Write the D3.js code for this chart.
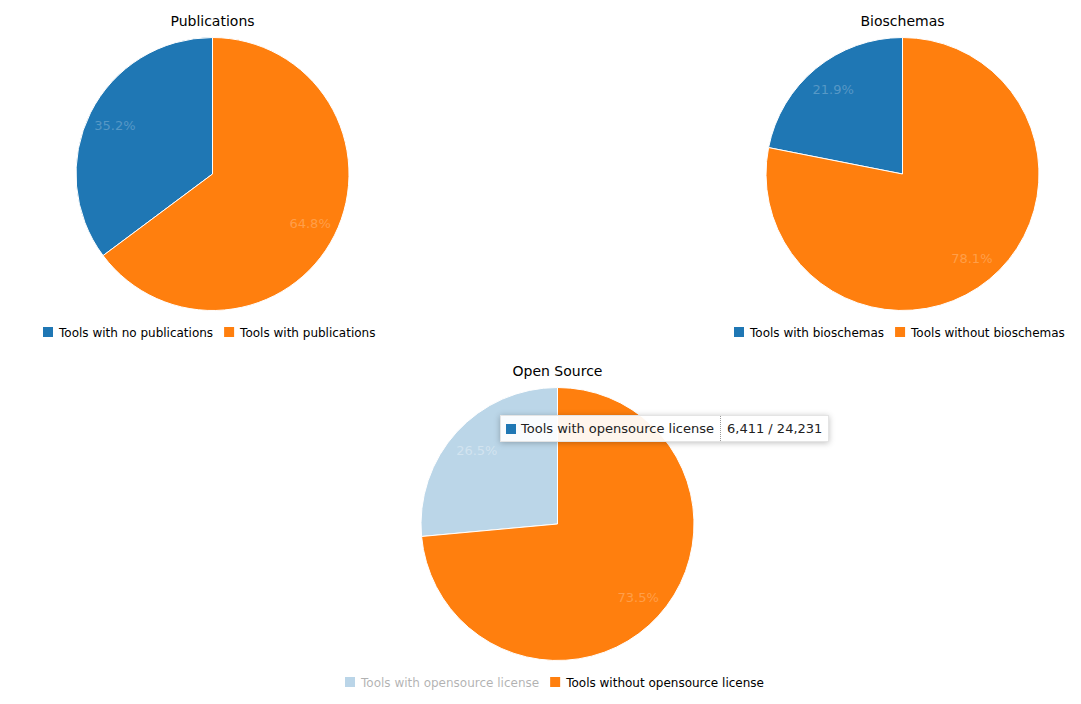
<!DOCTYPE html>
<html>
<head>
<meta charset="utf-8">
<style>
body{ margin:0; background:#fff; font-family:"DejaVu Sans", sans-serif; }
#wrap{ position:relative; width:1081px; height:704px; }
svg text{ font-family:"DejaVu Sans", sans-serif; }
.tip{
    position:absolute; left:500px; top:415px;
    background:rgba(255,255,255,0.92);
    box-shadow:0 1px 6px rgba(0,0,0,0.25);
    border:1px solid #e4e4e4;
    font-size:13px; color:#222;
    display:flex; align-items:center; height:25px;
}
.tip .name{ padding:0 6px 0 5px; display:flex; align-items:center; height:100%; border-right:1px dotted #999; }
.tip .sw{ display:inline-block; width:10px; height:10px; margin-right:5px; }
.tip .val{ padding:0 6px; }
</style>
</head>
<body>
<div id="wrap"></div>
<script src="https://cdn.jsdelivr.net/npm/d3@7.8.3/dist/d3.min.js"></script>
<script>
// three pies of tool counts, out of 24,231 tools
const total = 24231;

const pubLabels = ["Tools with no publications", "Tools with publications"];
const pubValues = [8529, 15702];

const bioLabels = ["Tools with bioschemas", "Tools without bioschemas"];
const bioValues = [5307, 18924];

const osLabels = ["Tools with opensource license", "Tools without opensource license"];
const osValues = [6411, 17820];

const colors = ["#1f77b4", "#ff7f0e"];

const width = 1081, height = 704, radius = 136.5;

const svg = d3.select("#wrap").append("svg")
    .attr("width", width)
    .attr("height", height);

const charts = [
    {title: "Publications", labels: pubLabels, values: pubValues, cx: 212.5, cy: 174, faded: -1},
    {title: "Bioschemas", labels: bioLabels, values: bioValues, cx: 902.5, cy: 174, faded: -1},
    {title: "Open Source", labels: osLabels, values: osValues, cx: 557.5, cy: 524, faded: 0}
];

const pie = d3.pie().sort((a, b) => b.value - a.value).value(d => d.value);
const arc = d3.arc().innerRadius(0).outerRadius(radius);
const labelArc = d3.arc().innerRadius(radius * 0.8).outerRadius(radius * 0.8);
const fmt = d3.format(".1%");

charts.forEach(c => {
    const data = c.labels.map((l, i) => ({label: l, value: c.values[i], i: i}));
    const sum = d3.sum(c.values);
    const g = svg.append("g").attr("transform", `translate(${c.cx},${c.cy})`);

    g.append("text")
        .attr("x", 0).attr("y", -radius - 12)
        .attr("text-anchor", "middle")
        .attr("font-size", 14)
        .attr("fill", "#000")
        .text(c.title);

    const slices = g.selectAll(".s").data(pie(data)).enter().append("g");
    slices.append("path")
        .attr("d", arc)
        .attr("fill", d => colors[d.data.i])
        .attr("fill-opacity", d => d.data.i === c.faded ? 0.3 : 1)
        .attr("stroke", "#fff")
        .attr("stroke-width", 1);
    slices.append("text")
        .attr("transform", d => `translate(${labelArc.centroid(d)})`)
        .attr("text-anchor", "middle")
        .attr("dy", "0.35em")
        .attr("font-size", 13)
        .attr("fill", "#fff")
        .attr("fill-opacity", d => d.data.i === c.faded ? 0.35 : 0.25)
        .text(d => fmt(d.data.value / sum));

    // legend, centred under the pie
    const lg = svg.append("g");
    const items = lg.selectAll(".li").data(data).enter().append("g")
        .attr("opacity", d => d.i === c.faded ? 0.3 : 1);
    items.append("rect").attr("width", 10).attr("height", 10).attr("fill", d => colors[d.i]);
    items.append("text")
        .attr("x", 16).attr("y", 9.5)
        .attr("font-size", 12)
        .attr("fill", "#000")
        .text(d => d.label);
    let x = 0;
    items.each(function(d) {
        const w = this.querySelector("text").getComputedTextLength();
        d3.select(this).attr("transform", `translate(${x},0)`);
        x += 16 + w + 11;
    });
    const lw = x - 11;
    lg.attr("transform", `translate(${Math.round(c.cx - 3 - lw / 2)},${c.cy + 153})`);
});

// tooltip over the open source pie
const tip = d3.select("#wrap").append("div").attr("class", "tip");
const tn = tip.append("div").attr("class", "name");
tn.append("span").attr("class", "sw").style("background", colors[0]);
tn.append("span").text(osLabels[0]);
tip.append("div").attr("class", "val")
    .text(`${d3.format(",")(osValues[0])} / ${d3.format(",")(total)}`);
</script>
</body>
</html>
